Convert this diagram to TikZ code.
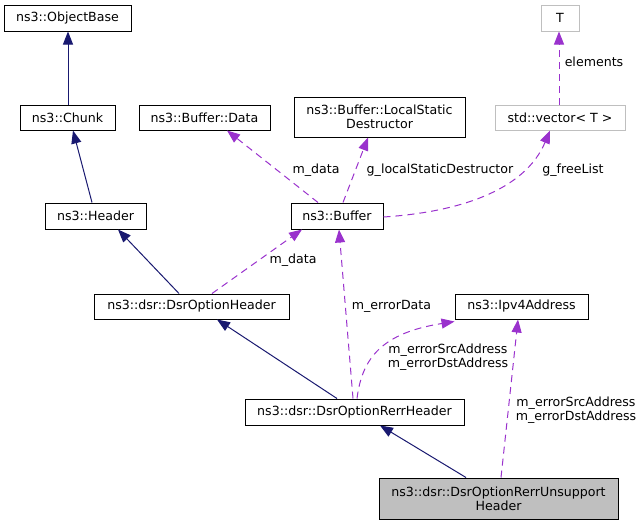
\documentclass[tikz,border=0pt]{standalone}
\usepackage{fontspec}
\setmainfont{DejaVu Sans}
\usetikzlibrary{arrows.meta}
\definecolor{navyc}{HTML}{191970}
\definecolor{purp}{HTML}{9A32CD}
\definecolor{gbox}{HTML}{BFBFBF}
\begin{document}
\begin{tikzpicture}[x=1pt,y=-1pt,
  every node/.style={font=\fontsize{12.6}{14}\selectfont},
  cls/.style={draw=black,line width=1pt,fill=white,inner sep=0pt,align=center},
  tmpl/.style={draw=gbox,line width=1pt,fill=white,inner sep=0pt,align=center},
  cur/.style={draw=black,line width=1pt,fill=gbox,inner sep=0pt,align=center},
  inh/.style={draw=navyc,line width=1pt,-{Triangle[length=13pt,width=10pt]}},
  use/.style={draw=purp,line width=1pt,dash pattern=on 7pt off 5pt,-{Triangle[length=13pt,width=10pt]}},
  lbl/.style={inner sep=0pt,align=center}]
\useasboundingbox (0,0) rectangle (644,525);
% nodes
\node[cls,minimum width=127pt,minimum height=26pt] (ob) at (67.5,18) {ns3::ObjectBase};
\node[cls,minimum width=95pt,minimum height=25pt] (chunk) at (67.5,117.5) {ns3::Chunk};
\node[cls,minimum width=131pt,minimum height=25pt] (bdata) at (204.5,117.5) {ns3::Buffer::Data};
\node[cls,minimum width=101pt,minimum height=26pt] (header) at (95.5,216) {ns3::Header};
\node[cls,minimum width=171pt,minimum height=40pt] (lsd) at (379.5,117) {ns3::Buffer::LocalStatic\\Destructor};
\node[tmpl,minimum width=38pt,minimum height=26pt] (T) at (560,18) {T};
\node[tmpl,minimum width=130pt,minimum height=25pt] (vec) at (560,117.5) {std::vector< T >};
\node[cls,minimum width=92pt,minimum height=26pt] (buf) at (337,216) {ns3::Buffer};
\node[cls,minimum width=195pt,minimum height=25pt] (doh) at (191.5,306.5) {ns3::dsr::DsrOptionHeader};
\node[cls,minimum width=133pt,minimum height=25pt] (ipv4) at (521.5,306.5) {ns3::Ipv4Address};
\node[cls,minimum width=219pt,minimum height=26pt] (rerr) at (354.5,412) {ns3::dsr::DsrOptionRerrHeader};
\node[cur,minimum width=239pt,minimum height=41pt] (uns) at (498.5,498.5) {ns3::dsr::DsrOptionRerrUnsupport\\Header};
% inheritance
\draw[inh] ([xshift=0.5pt]chunk.north) -- ([xshift=0.5pt]ob.south);
\draw[inh] ([xshift=-3.5pt]header.north) -- ([xshift=5.5pt]chunk.south);
\draw[inh] ([xshift=-12.5pt]doh.north) -- ([xshift=22.5pt]header.south);
\draw[inh] ([xshift=-17.5pt]rerr.north) -- ([xshift=25.5pt]doh.south);
\draw[inh] ([xshift=-32.5pt]uns.north) -- ([xshift=25.5pt]rerr.south);
% usage
\draw[use] ([xshift=-19pt]buf.north) -- ([xshift=22.5pt]bdata.south);
\node[lbl] (l1) at (316,170) {m\_data};
\draw[use] ([xshift=6pt]buf.north) -- ([xshift=-11.5pt]lsd.south);
\node[lbl] (l2) at (440,170) {g\_localStaticDestructor};
\draw[use] ([yshift=-1pt]buf.east) .. controls (460,212) and (525,190) .. ([xshift=-10pt]vec.south);
\node[lbl] (l3) at (573,170) {g\_freeList};
\draw[use] ([xshift=-1pt]vec.north) -- ([xshift=-1pt]T.south);
\node[lbl] (l4) at (594,62) {elements};
\draw[use] ([xshift=20.5pt]doh.north) -- ([xshift=-35pt]buf.south);
\node[lbl] (l5) at (293,260) {m\_data};
\draw[use] ([xshift=-1.5pt]rerr.north) -- ([xshift=2pt]buf.south);
\node[lbl] (l6) at (391.5,306) {m\_errorData};
\draw[use] ([xshift=2.5pt]rerr.north) .. controls (362,358) and (382,333) .. ([yshift=-2pt]ipv4.south west);
\node[lbl] (l7) at (448,357.5) {m\_errorSrcAddress\\m\_errorDstAddress};
\draw[use] ([xshift=2.5pt]uns.north) -- ([xshift=-3.5pt]ipv4.south);
\node[lbl] (l8) at (576,410.5) {m\_errorSrcAddress\\m\_errorDstAddress};
\end{tikzpicture}
\end{document}
